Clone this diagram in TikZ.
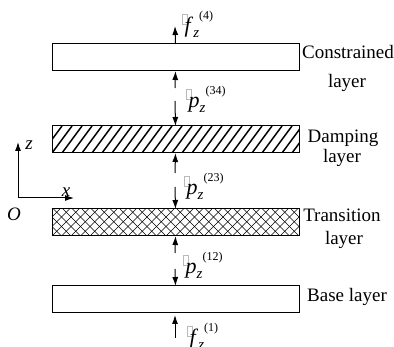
\documentclass[tikz,border=0pt]{standalone}
\usepackage{fontspec}
\setmainfont{Liberation Serif}
\usetikzlibrary{arrows.meta,calc}
\tikzset{
 layer/.style={draw, line width=1pt, minimum width=247pt, minimum height=27pt, inner sep=0pt, outer sep=0pt},
 arr/.style={line width=1pt, -{Latex[length=9pt,width=6pt]}},
 lab/.style={font=\fontsize{19}{22}\selectfont\rmfamily, anchor=base, inner sep=0pt},
 hatch/.style={line width=1.5pt},
 xhatch/.style={line width=0.65pt},
 sym/.style={anchor=base west, inner sep=0pt, font=\fontsize{22}{24}\selectfont\rmfamily},
 axlab/.style={anchor=base, inner sep=0pt, font=\fontsize{19}{22}\selectfont\rmfamily\itshape},
}
\newcommand{\gbox}{\textcolor{gray!55}{\fboxrule=0.5pt\fboxsep=0pt\fbox{\rule{0pt}{10pt}\hspace{4.5pt}}}}
\newcommand{\flab}[2]{\raisebox{8.5pt}{\gbox}\kern-3pt\textit{#1}\raisebox{-5pt}{\fontsize{15}{15}\selectfont\textit{z}}\raisebox{13pt}{\fontsize{12}{12}\selectfont(#2)}}
\begin{document}
\begin{tikzpicture}[x=1pt,y=-1pt]
\useasboundingbox (0,0) rectangle (394,347);
% layers
\node[layer] (L4) at (175.5,57.5) {};
\node[layer] (L3) at (175.5,139.5) {};
\node[layer] (L2) at (175.5,222.5) {};
\node[layer] (L1) at (175.5,299.5) {};
% hatching damping layer
\begin{scope}
\clip (L3.south west) rectangle (L3.north east);
\foreach \i in {-3,...,26} \draw[hatch] ($(L3.south west)+(\i*10,0)$) -- ++(20,-27);
\end{scope}
% crosshatch transition layer
\begin{scope}
\clip (L2.south west) rectangle (L2.north east);
\foreach \i in {-4,...,28} {
  \draw[xhatch] ($(L2.south west)+(\i*9.5,0)$) -- ++(27,-27);
  \draw[xhatch] ($(L2.south west)+(\i*9.5,0)$) -- ++(-27,-27);
}
\end{scope}
\draw[line width=1pt] (L3.south west) rectangle (L3.north east);
\draw[line width=1pt] (L2.south west) rectangle (L2.north east);
% arrow ends
\coordinate (t4) at (175,26);
\coordinate (a34) at (175,88);
\coordinate (b34) at (175,101);
\coordinate (a23) at (175,173);
\coordinate (b23) at (175,187);
\coordinate (a12) at (175,253);
\coordinate (b12) at (175,269);
\coordinate (t1) at (175,338);
\coordinate (tip1) at (175,315);
\draw[arr] (L4.north) -- (t4);
\draw[arr] (a34) -- (L4.south);
\draw[arr] (b34) -- (L3.north);
\draw[arr] (a23) -- (L3.south);
\draw[arr] (b23) -- (L2.north);
\draw[arr] (a12) -- (L2.south);
\draw[arr] (b12) -- (L1.north);
\draw[arr] (t1) -- (tip1);
% force labels
\node[sym] (f4) at (182,33) {\flab{f}{4}};
\node[sym] (p34) at (186,108) {\flab{p}{34}};
\node[sym] (p23) at (184,195) {\flab{p}{23}};
\node[sym] (p12) at (183,274) {\flab{p}{12}};
\node[sym] (f1) at (187,345) {\flab{f}{1}};
% axes
\coordinate (O) at (18,198);
\coordinate (Z) at (18,142);
\coordinate (X) at (74,198);
\draw[arr] (O) -- (Z);
\draw[arr] (O) -- (X);
\node[axlab] (zl) at (29,150) {z};
\node[axlab] (xl) at (66,197) {x};
\node[axlab] (ol) at (14,221) {O};
% layer names
\node[lab] (n4a) at (348,59) {Constrained};
\node[lab] (n4b) at (347,88) {layer};
\node[lab] (n3a) at (343,143) {Damping};
\node[lab] (n3b) at (342,163) {layer};
\node[lab] (n2a) at (342,222) {Transition};
\node[lab] (n2b) at (344,245) {layer};
\node[lab] (n1) at (347,302) {Base layer};
\end{tikzpicture}
\end{document}
